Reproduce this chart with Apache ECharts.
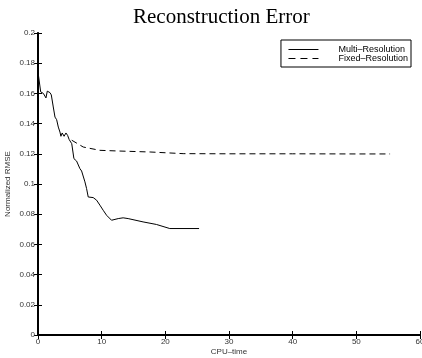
<!DOCTYPE html>
<html>
<head>
<meta charset="utf-8">
<script src="https://cdn.jsdelivr.net/npm/echarts@6/dist/echarts.min.js"></script>
<style>
  html, body { margin: 0; padding: 0; background: #fff; }
  #chart { width: 422px; height: 358px; }
</style>
</head>
<body>
<div id="chart"></div>
<script>
// CPU-time vs normalized RMSE
const multiX = [0.05, 0.2, 0.42, 0.84, 1.1, 1.25, 1.46, 1.88, 2.09, 2.4, 2.67, 2.93, 3.19, 3.45, 3.6, 3.8, 4.1, 4.39, 4.65, 4.9, 5.12, 5.3, 5.64, 6.06, 6.32, 6.58, 6.85, 7.1, 7.37, 7.63, 7.89, 8.15, 8.67, 9.2, 9.72, 10.24, 10.77, 11.55, 11.8, 12.6, 13.37, 14.16, 16.5, 18.6, 20.7, 25.3]
const multiY = [0.1726, 0.172, 0.161, 0.160, 0.1605, 0.157, 0.1615, 0.1605, 0.159, 0.151, 0.1443, 0.1426, 0.1377, 0.1344, 0.1316, 0.1338, 0.1316, 0.1338, 0.1322, 0.1294, 0.129, 0.1267, 0.1168, 0.1152, 0.1146, 0.1102, 0.1086, 0.108, 0.1014, 0.097, 0.0914, 0.091, 0.091, 0.0893, 0.086, 0.0826, 0.0793, 0.076, 0.0756, 0.0771, 0.0776, 0.0771, 0.0749, 0.0732, 0.0705, 0.0705]
const fixedX = [5.3, 7.1, 9.7, 12.3, 17.6, 22.8, 30, 40, 50, 55.3]
const fixedY = [0.129, 0.1245, 0.1223, 0.1219, 0.1212, 0.1201, 0.12, 0.12, 0.1199, 0.1199]

const seriesNames = ['Multi–Resolution', 'Fixed–Resolution']
const chartTitle = 'Reconstruction Error'
const xName = 'CPU–time'
const yName = 'Normalized RMSE'

const zip = (xs, ys) => xs.map((x, i) => [x, ys[i]])

const chart = echarts.init(document.getElementById('chart'), null, { renderer: 'canvas' })

const tickColor = '#000'
const labelStyle = { color: '#333', fontSize: 8, fontFamily: 'Liberation Sans' }

chart.setOption({
  animation: false,
  title: {
    text: chartTitle,
    left: 128,
    top: 2,
    textStyle: { fontFamily: 'Liberation Serif', fontSize: 21, fontWeight: 'normal', color: '#000' },
  },
  legend: {
    orient: 'vertical',
    right: 11,
    top: 40,
    width: 134,
    itemWidth: 30,
    itemHeight: 8,
    itemGap: 0,
    padding: [5, 3, 4, 7],
    borderColor: '#000',
    borderWidth: 1,
    backgroundColor: '#fff',
    itemStyle: { color: 'transparent', borderWidth: 0 },
    textStyle: { fontFamily: 'Liberation Sans', fontSize: 9, color: '#000', padding: [0, 0, 0, 15] },
    data: [
      { name: seriesNames[0], lineStyle: { width: 1, type: 'solid' } },
      { name: seriesNames[1], lineStyle: { width: 1, type: [7, 5] } },
    ],
  },
  grid: { left: 38, right: 2, top: 33, bottom: 23, containLabel: false, outerBoundsMode: 'none' },
  xAxis: [
    {
      type: 'value',
      min: 0,
      max: 60,
      interval: 10,
      name: xName,
      nameLocation: 'middle',
      nameGap: 13,
      nameMoveOverlap: false,
      nameTextStyle: labelStyle,
      axisLine: { lineStyle: { color: tickColor, width: 2 } },
      axisTick: { inside: true, length: 4, lineStyle: { color: tickColor } },
      axisLabel: { ...labelStyle, margin: 3 },
      splitLine: { show: false },
    },
    {
      type: 'value',
      position: 'top',
      min: 0,
      max: 60,
      interval: 10,
      axisLine: { lineStyle: { color: tickColor, width: 1.5 } },
      axisTick: { inside: true, length: 4, lineStyle: { color: tickColor } },
      axisLabel: { show: false },
      splitLine: { show: false },
    },
  ],
  yAxis: [
    {
      type: 'value',
      min: 0,
      max: 0.2,
      interval: 0.02,
      name: yName,
      nameLocation: 'middle',
      nameGap: 26,
      nameMoveOverlap: false,
      nameTextStyle: labelStyle,
      axisLine: { show: true, lineStyle: { color: tickColor, width: 2 } },
      axisTick: { show: true, inside: true, length: 4, lineStyle: { color: tickColor } },
      axisLabel: { ...labelStyle, margin: 3 },
      splitLine: { show: false },
    },
    {
      type: 'value',
      position: 'right',
      min: 0,
      max: 0.2,
      interval: 0.02,
      axisLine: { show: true, lineStyle: { color: tickColor, width: 1.5 } },
      axisTick: { show: true, inside: true, length: 4, lineStyle: { color: tickColor } },
      axisLabel: { show: false },
      splitLine: { show: false },
    },
  ],
  series: [
    {
      name: seriesNames[0],
      type: 'line',
      showSymbol: false,
      symbol: 'none',
      lineStyle: { color: '#000', width: 1 },
      itemStyle: { color: '#000' },
      data: zip(multiX, multiY),
    },
    {
      name: seriesNames[1],
      type: 'line',
      showSymbol: false,
      symbol: 'none',
      lineStyle: { color: '#000', width: 1, type: [6, 4] },
      itemStyle: { color: '#000' },
      data: zip(fixedX, fixedY),
    },
  ],
})
</script>
</body>
</html>
